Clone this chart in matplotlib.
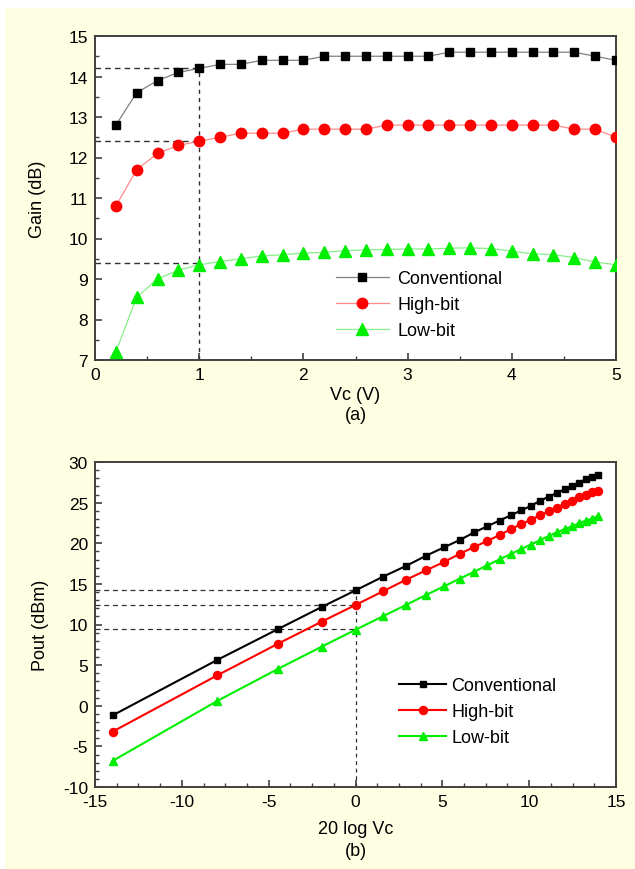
import matplotlib
matplotlib.use("Agg")
import matplotlib.pyplot as plt
from matplotlib.ticker import MultipleLocator
from matplotlib.patches import Rectangle

plt.rcParams['font.family'] = ['Liberation Sans', 'DejaVu Sans']
plt.rcParams['axes.unicode_minus'] = False

# ---- (a) gain versus control voltage ----
vc = [0.2, 0.4, 0.6, 0.8, 1.0, 1.2, 1.4, 1.6, 1.8, 2.0, 2.2, 2.4, 2.6,
      2.8, 3.0, 3.2, 3.4, 3.6, 3.8, 4.0, 4.2, 4.4, 4.6, 4.8, 5.0]
gain_conv = [12.8, 13.6, 13.9, 14.1, 14.2, 14.3, 14.3, 14.4, 14.4, 14.4, 14.5, 14.5, 14.5,
             14.5, 14.5, 14.5, 14.6, 14.6, 14.6, 14.6, 14.6, 14.6, 14.6, 14.5, 14.4]
gain_high = [10.8, 11.7, 12.1, 12.3, 12.4, 12.5, 12.6, 12.6, 12.6, 12.7, 12.7, 12.7, 12.7,
             12.8, 12.8, 12.8, 12.8, 12.8, 12.8, 12.8, 12.8, 12.8, 12.7, 12.7, 12.5]
gain_low = [7.2, 8.55, 9.0, 9.22, 9.35, 9.43, 9.5, 9.57, 9.6, 9.64, 9.66, 9.7, 9.72,
            9.73, 9.74, 9.74, 9.76, 9.77, 9.75, 9.69, 9.62, 9.6, 9.53, 9.42, 9.35]

# ---- (b) output power versus 20 log Vc ----
logvc = [-13.98, -7.96, -4.44, -1.94, 0.0, 1.58, 2.92, 4.08, 5.11, 6.02, 6.85, 7.60, 8.30,
         8.94, 9.54, 10.10, 10.63, 11.13, 11.60, 12.04, 12.46, 12.87, 13.26, 13.62, 13.98]
pout_conv = [-1.18, 5.64, 9.46, 12.16, 14.2, 15.88, 17.22, 18.48, 19.51, 20.42, 21.35, 22.10, 22.80,
             23.44, 24.04, 24.60, 25.23, 25.73, 26.20, 26.64, 27.06, 27.47, 27.86, 28.12, 28.38]
pout_high = [-3.18, 3.74, 7.66, 10.36, 12.4, 14.08, 15.52, 16.68, 17.71, 18.72, 19.55, 20.30, 21.00,
             21.74, 22.34, 22.90, 23.43, 23.93, 24.40, 24.84, 25.26, 25.67, 25.96, 26.32, 26.48]
pout_low = [-6.78, 0.59, 4.56, 7.28, 9.35, 11.01, 12.42, 13.65, 14.71, 15.66, 16.51, 17.30, 18.02,
            18.67, 19.28, 19.84, 20.39, 20.90, 21.35, 21.73, 22.08, 22.47, 22.79, 23.04, 23.33]

labels = ['Conventional', 'High-bit', 'Low-bit']
ref_vc = 1.0
ref_gain = [14.2, 12.4, 9.4]

BG = '#FEFEE2'
SPINE = '#404040'

fig = plt.figure(figsize=(6.35, 8.7), dpi=100, facecolor=BG)
# white strips along top and left edges
fig.patches.append(Rectangle((0, 1 - 9 / 870), 1, 9 / 870, transform=fig.transFigure,
                             facecolor='white', edgecolor='none', zorder=-1))
fig.patches.append(Rectangle((0, 0), 5 / 635, 1, transform=fig.transFigure,
                             facecolor='white', edgecolor='none', zorder=-1))

ax1 = fig.add_axes([95 / 635, 1 - 361 / 870, 521 / 635, 324 / 870])
ax2 = fig.add_axes([95 / 635, 1 - 788 / 870, 521 / 635, 325 / 870])


def style_axes(ax):
    for s in ax.spines.values():
        s.set_color(SPINE)
        s.set_linewidth(1.4)
    ax.tick_params(which='both', direction='in', color=SPINE, labelsize=12.5,
                   top=False, right=False, pad=5)
    ax.tick_params(which='major', length=5, width=1.2)
    ax.tick_params(which='minor', length=3, width=1.0)


# (a)
ax1.plot(vc, gain_conv, color='#808080', lw=0.9, marker='s', ms=6.2,
         mfc='black', mec='black', label=labels[0], zorder=3)
ax1.plot(vc, gain_high, color='#FF8A8A', lw=0.9, marker='o', ms=7.5,
         mfc='#FF0000', mec='#FF0000', label=labels[1], zorder=3)
ax1.plot(vc, gain_low, color='#88EE88', lw=0.9, marker='^', ms=8,
         mfc='#00EE00', mec='#00EE00', label=labels[2], zorder=3)
for g in ref_gain:
    ax1.plot([0, ref_vc], [g, g], color='#303030', lw=1.0, ls=(0, (4, 3)), zorder=2)
ax1.plot([ref_vc, ref_vc], [7, ref_gain[0]], color='#303030', lw=1.0, ls=(0, (3, 3)), zorder=2)
ax1.set_xlim(0, 5)
ax1.set_ylim(7, 15)
ax1.xaxis.set_major_locator(MultipleLocator(1))
ax1.xaxis.set_minor_locator(MultipleLocator(0.5))
ax1.yaxis.set_major_locator(MultipleLocator(1))
ax1.yaxis.set_minor_locator(MultipleLocator(0.5))
style_axes(ax1)
ax1.set_ylabel('Gain (dB)', fontsize=13, labelpad=16)
ax1.set_xlabel('Vc (V)\n(a)', fontsize=13, labelpad=3, linespacing=1.25)
ax1.legend(loc='upper left', bbox_to_anchor=(0.449, 0.30), frameon=False, fontsize=13,
           handlelength=2.9, handletextpad=0.5, labelspacing=0.5, borderaxespad=0)

# (b)
ax2.plot(logvc, pout_conv, color='black', lw=1.5, marker='s', ms=5,
         mfc='black', mec='black', label=labels[0], zorder=3)
ax2.plot(logvc, pout_high, color='#FF0000', lw=1.5, marker='o', ms=5.8,
         mfc='#FF0000', mec='#FF0000', label=labels[1], zorder=3)
ax2.plot(logvc, pout_low, color='#00EE00', lw=1.5, marker='^', ms=6.2,
         mfc='#00EE00', mec='#00EE00', label=labels[2], zorder=3)
for g in ref_gain:
    ax2.plot([-15, 0], [g, g], color='#303030', lw=0.9, ls=(0, (4, 3)), zorder=2)
ax2.plot([0, 0], [-10, ref_gain[0]], color='#303030', lw=0.9, ls=(0, (3, 3)), zorder=2)
ax2.set_xlim(-15, 15)
ax2.set_ylim(-10, 30)
ax2.xaxis.set_major_locator(MultipleLocator(5))
ax2.xaxis.set_minor_locator(MultipleLocator(1.25))
ax2.yaxis.set_major_locator(MultipleLocator(5))
ax2.yaxis.set_minor_locator(MultipleLocator(1))
style_axes(ax2)
ax2.set_ylabel('Pout (dBm)', fontsize=13, labelpad=10)
ax2.set_xlabel('20 log Vc\n(b)', fontsize=13, labelpad=8, linespacing=1.35)
ax2.legend(loc='upper left', bbox_to_anchor=(0.57, 0.36), frameon=False, fontsize=13,
           handlelength=2.6, handletextpad=0.3, labelspacing=0.5, borderaxespad=0)

fig.savefig('out.png', dpi=100, facecolor=BG)
